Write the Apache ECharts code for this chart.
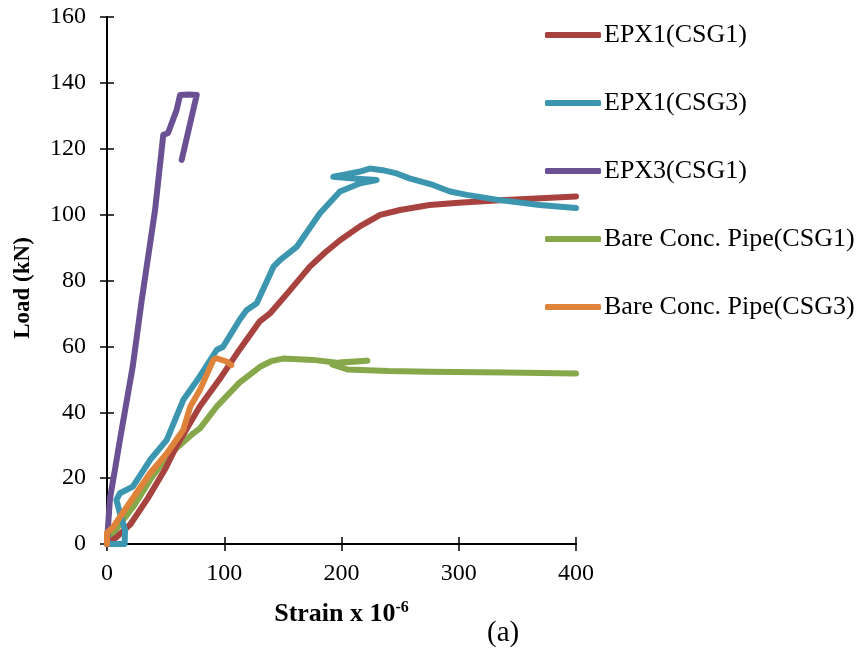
<!DOCTYPE html>
<html>
<head>
<meta charset="utf-8">
<script src="https://cdn.jsdelivr.net/npm/echarts@6/dist/echarts.min.js"></script>
<style>html,body{margin:0;padding:0;background:#fff}#c{width:865px;height:649px}</style>
</head>
<body>
<div id="c"></div>
<script>
var seriesNames = ['EPX1(CSG1)', 'EPX1(CSG3)', 'EPX3(CSG1)', 'Bare Conc. Pipe(CSG1)', 'Bare Conc. Pipe(CSG3)'];
var xTicks = [0, 100, 200, 300, 400];
var yTicks = [0, 20, 40, 60, 80, 100, 120, 140, 160];

var epx1csg1Strain = [0, 8, 20, 35, 50, 59, 79, 96, 113, 130, 139, 156, 173, 186, 199, 216, 233, 250, 275, 300, 335, 370, 400];
var epx1csg1Load   = [0, 2, 6, 14, 23, 29.5, 41.7, 50, 59, 67.5, 70, 77, 84.2, 88.5, 92.3, 96.5, 99.9, 101.4, 102.9, 103.6, 104.4, 105, 105.5];

var epx1csg3Strain = [0, 8, 15, 15.4, 11, 8, 11, 22, 36.7, 51, 65, 79, 93.5, 99, 113, 119, 127.7, 142, 147.5, 162, 181.6, 198.7, 216, 230, 210, 193, 200, 215, 224, 235, 247, 258, 278, 292.5, 307, 335, 369, 400];
var epx1csg3Load   = [0, 0, 0, 4.2, 9.4, 13.4, 15.4, 17.4, 25.5, 31.6, 43.7, 50.8, 58.9, 59.9, 68, 71, 73.1, 84.2, 86.2, 90.3, 100.4, 107, 109.5, 110.5, 111, 111.5, 112, 113, 114, 113.5, 112.5, 111, 109, 107, 106, 104.4, 102.9, 102];

var epx3csg1Strain = [0, 1, 2.6, 7, 11, 22, 29.6, 41, 48, 52, 59.4, 62.3, 70, 76.5, 63.7];
var epx3csg1Load   = [0, 6, 14, 23, 31.6, 54, 74, 101.4, 124.2, 124.7, 131.8, 136.3, 136.5, 136.3, 116.6];

var bareCsg1Strain = [0, 5, 12, 22.4, 36.7, 51, 73.6, 79.3, 93.5, 113, 130.5, 140, 150, 176, 196, 210, 222, 200, 192, 205, 240, 275, 340, 400];
var bareCsg1Load   = [0, 3, 6.5, 11.3, 19.4, 26.5, 33.6, 35.1, 41.7, 49, 53.8, 55.5, 56.3, 55.9, 55, 55.3, 55.6, 55.2, 54.5, 53, 52.5, 52.3, 52.1, 51.8];

var bareCsg3Strain = [0, 0, 5, 17, 36.7, 51, 65, 71, 79.3, 90.7, 93.5, 102, 106];
var bareCsg3Load   = [0, 3.4, 5, 11.3, 21.5, 27.5, 34.6, 41.7, 46.8, 55.9, 56.4, 55.4, 54.3];

var colors = ['#A8423F', '#3D96B0', '#6A5193', '#87A84A', '#E0833A'];

function pairs(xs, ys) { return xs.map(function (x, i) { return [x, ys[i]]; }); }
var allData = [
  pairs(epx1csg1Strain, epx1csg1Load),
  pairs(epx1csg3Strain, epx1csg3Load),
  pairs(epx3csg1Strain, epx3csg1Load),
  pairs(bareCsg1Strain, bareCsg1Load),
  pairs(bareCsg3Strain, bareCsg3Load)
];

var font = 'Liberation Serif, Times New Roman, serif';
var chart = echarts.init(document.getElementById('c'));
chart.setOption({
  animation: false,
  backgroundColor: '#fff',
  color: colors,
  grid: { left: 107, right: 289, top: 17, bottom: 105, containLabel: false },
  legend: {
    orient: 'vertical',
    left: 540,
    top: 17,
    itemWidth: 56,
    itemHeight: 6,
    itemGap: 42,
    icon: 'roundRect',
    data: seriesNames,
    textStyle: { fontFamily: font, fontSize: 26, color: '#000', padding: [0, 0, 0, -2] }
  },
  xAxis: [{
    type: 'value',
    min: xTicks[0], max: xTicks[xTicks.length - 1], interval: 100,
    name: '{a|Strain x 10}{b|-6}',
    nameLocation: 'middle',
    nameGap: 56,
    nameTextStyle: {
      rich: {
        a: { fontFamily: font, fontSize: 26, fontWeight: 'bold', color: '#000' },
        b: { fontFamily: font, fontSize: 16, fontWeight: 'bold', color: '#000', padding: [0, 0, 12, 0] }
      }
    },
    axisLine: { lineStyle: { color: '#000', width: 2 } },
    axisTick: { show: true, length: 7, inside: false, lineStyle: { color: '#000', width: 1.5 } },
    axisLabel: { fontFamily: font, fontSize: 24, color: '#000', margin: 18 },
    splitLine: { show: false }
  }, {
    type: 'value', position: 'bottom',
    min: xTicks[0], max: xTicks[xTicks.length - 1], interval: 100,
    axisLine: { show: false },
    axisTick: { show: true, length: 7, inside: true, lineStyle: { color: '#000', width: 1.5 } },
    axisLabel: { show: false },
    splitLine: { show: false }
  }],
  yAxis: [{
    type: 'value',
    min: yTicks[0], max: yTicks[yTicks.length - 1], interval: 20,
    axisLine: { show: true, lineStyle: { color: '#000', width: 2 } },
    axisTick: { show: true, length: 7, inside: false, lineStyle: { color: '#000', width: 1.5 } },
    axisLabel: { fontFamily: font, fontSize: 24, color: '#000', margin: 21 },
    splitLine: { show: false }
  }, {
    type: 'value', position: 'left',
    min: yTicks[0], max: yTicks[yTicks.length - 1], interval: 20,
    axisLine: { show: false },
    axisTick: { show: true, length: 7, inside: true, lineStyle: { color: '#000', width: 1.5 } },
    axisLabel: { show: false },
    splitLine: { show: false }
  }],
  graphic: [
    { type: 'text', left: 487, top: 619, style: { text: '(a)', font: '29px ' + font, fill: '#000' } },
    { type: 'text', x: 23, y: 288, rotation: Math.PI / 2,
      style: { text: 'Load (kN)', font: 'bold 23px ' + font, fill: '#000', align: 'center', verticalAlign: 'middle' } }
  ],
  series: seriesNames.map(function (n, i) {
    return {
      name: n,
      type: 'line',
      xAxisIndex: 0,
      yAxisIndex: 0,
      data: allData[i],
      showSymbol: false,
      symbol: 'none',
      smooth: false,
      lineStyle: { width: 6, color: colors[i], cap: 'round', join: 'round' },
      itemStyle: { color: colors[i] },
      z: [2, 3, 4, 1, 5][i]
    };
  })
});
</script>
</body>
</html>
